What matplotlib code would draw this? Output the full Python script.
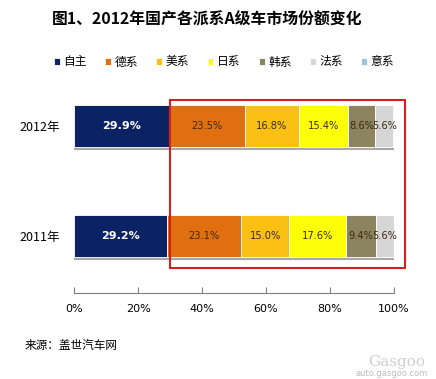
import matplotlib
matplotlib.use("Agg")
import matplotlib.pyplot as plt
from matplotlib.patches import Rectangle
import numpy as np

plt.rcParams['font.family'] = ['Noto Sans CJK SC', 'DejaVu Sans']

years = ['2011年', '2012年']
series = ['自主', '德系', '美系', '日系', '韩系', '法系', '意系']
share_2011 = [29.2, 23.1, 15.0, 17.6, 9.4, 5.6, 0.1]
share_2012 = [29.9, 23.5, 16.8, 15.4, 8.6, 5.6, 0.2]
colors = ['#0b2364', '#e06f0f', '#f9bf12', '#fdfd08', '#8b845e', '#d6d6d6', '#9dc3da']
xticks = [0, 20, 40, 60, 80, 100]

W, H = 436, 379
fig = plt.figure(figsize=(W / 100, H / 100), dpi=100)
ax = fig.add_axes([74 / W, 86 / H, 320 / W, (293 - 71) / H])

data = np.array([share_2011, share_2012])
ypos = np.arange(len(years))
h = 0.39
left = np.zeros(len(years))
for i, name in enumerate(series):
    vals = data[:, i]
    bars = ax.barh(ypos, vals, h, left=left, color=colors[i], label=name,
                   edgecolor='white', linewidth=0.6)
    if i < 6:
        for b, v in zip(bars, vals):
            cx = b.get_x() + b.get_width() / 2
            if i == 0:
                ax.text(cx, b.get_y() + h / 2, '{:.1f}%'.format(v), ha='center', va='center',
                        color='white', fontsize=8, fontweight='bold', family='DejaVu Sans')
            else:
                ax.text(cx, b.get_y() + h / 2, '{:.1f}%'.format(v), ha='center', va='center',
                        color='#3a2a10', fontsize=7.1, family='DejaVu Sans')
    left += vals

# shadow under bars
for y in ypos:
    ax.plot([0, 100], [y - h / 2 - 0.015] * 2, color='#a8a8a8', lw=1.5, zorder=1,
            solid_capstyle='butt')

ax.set_xlim(0, 100)
ax.set_ylim(-0.518, 1.5)
ax.set_yticks(ypos)
ax.set_yticklabels(years, fontsize=9)
ax.set_xticks(xticks)
ax.set_xticklabels(['{}%'.format(t) for t in xticks], fontsize=8, family='DejaVu Sans')
ax.tick_params(axis='y', length=0, pad=10)
ax.tick_params(axis='x', direction='in', length=4, color='#808080', pad=8)
for s in ['top', 'right', 'left']:
    ax.spines[s].set_visible(False)
ax.spines['bottom'].set_color('#808080')

fig.text(52 / W, 1 - 20 / H, '图1、2012年国产各派系A级车市场份额变化', fontsize=11.4,
         fontweight='bold', va='center', ha='left')

fig.legend(loc='center', bbox_to_anchor=(224 / W, 1 - 62 / H), ncol=7, frameon=False,
           fontsize=8.5, handlelength=0.5, handleheight=0.5, handletextpad=0.3,
           columnspacing=1.55)

fig.patches.append(Rectangle((170 / W, 1 - 268 / H), 235 / W, 168 / H,
                             transform=fig.transFigure, fill=False,
                             edgecolor='#d42020', lw=1.5))

fig.text(25 / W, 1 - 345 / H, '来源：盖世汽车网', fontsize=8.4, va='center', ha='left')
fig.text(425 / W, 1 - 362 / H, 'Gasgoo', fontsize=11, color='#cfcfcf', ha='right',
         va='center', family='DejaVu Serif')
fig.text(428 / W, 1 - 374 / H, 'auto.gasgoo.com', fontsize=6, color='#bdbdbd', ha='right',
         va='center', family='DejaVu Sans')

fig.savefig('out.png', dpi=100)
